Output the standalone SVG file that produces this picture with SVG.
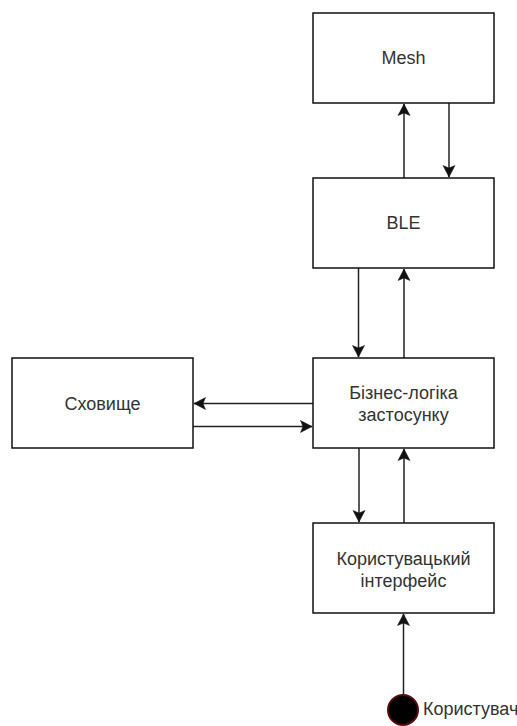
<svg xmlns="http://www.w3.org/2000/svg" width="517" height="726" viewBox="0 0 517 726">
<style>
.box{fill:#fff;stroke:#111;stroke-width:1.5}
.lbl{font-family:"Liberation Sans",Arial,sans-serif;font-size:18px;fill:#333;text-anchor:middle}
.edge{stroke:#222;stroke-width:1.5;fill:none}
</style>
<defs>
<marker id="arr" markerUnits="userSpaceOnUse" markerWidth="14" markerHeight="14" viewBox="-12 -7 14 14" refX="0" refY="0" orient="auto">
<path d="M0,0 L-11.5,-6 L-9,0 L-11.5,6 Z" fill="#111" stroke="#111" stroke-width="0.5"/>
</marker>
</defs>
<rect width="517" height="726" fill="#fff"/>
<g id="connectors">
<line class="edge" x1="404" y1="178" x2="404" y2="104" marker-end="url(#arr)"/>
<line class="edge" x1="449" y1="103" x2="449" y2="177" marker-end="url(#arr)"/>
<line class="edge" x1="358.5" y1="268" x2="358.5" y2="357" marker-end="url(#arr)"/>
<line class="edge" x1="404" y1="358" x2="404" y2="269" marker-end="url(#arr)"/>
<line class="edge" x1="313" y1="403.5" x2="194" y2="403.5" marker-end="url(#arr)"/>
<line class="edge" x1="193" y1="426.5" x2="312" y2="426.5" marker-end="url(#arr)"/>
<line class="edge" x1="359" y1="448" x2="359" y2="522" marker-end="url(#arr)"/>
<line class="edge" x1="404" y1="523" x2="404" y2="449" marker-end="url(#arr)"/>
<line class="edge" x1="403.5" y1="694" x2="403.5" y2="614" marker-end="url(#arr)"/>
</g>
<g id="mesh">
<rect class="box" x="313" y="13" width="181" height="90"/>
<text class="lbl" x="403.5" y="64">Mesh</text>
</g>
<g id="ble">
<rect class="box" x="313" y="178" width="181" height="90"/>
<text class="lbl" x="403.5" y="229">BLE</text>
</g>
<g id="logic">
<rect class="box" x="313" y="358" width="181" height="90"/>
<text class="lbl" x="403.5" y="399">Бізнес-логіка</text>
<text class="lbl" x="403.5" y="421">застосунку</text>
</g>
<g id="storage">
<rect class="box" x="12" y="358" width="181" height="90"/>
<text class="lbl" x="102.5" y="409.5">Сховище</text>
</g>
<g id="ui">
<rect class="box" x="313" y="523" width="181" height="90"/>
<text class="lbl" x="403.5" y="565">Користувацький</text>
<text class="lbl" x="403.5" y="587">інтерфейс</text>
</g>
<g id="user">
<circle cx="403" cy="710" r="15" fill="#000" stroke="#5a0a0a" stroke-width="2"/>
<text class="lbl" x="423" y="715" style="text-anchor:start">Користувач</text>
</g>
</svg>
